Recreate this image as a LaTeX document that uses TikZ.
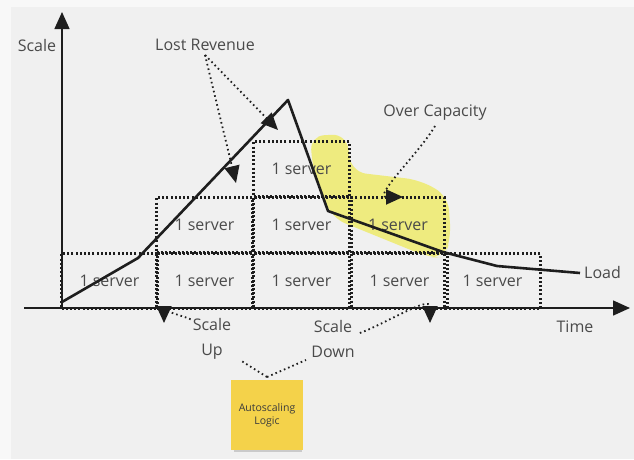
\documentclass[tikz,border=0pt]{standalone}
\usepackage{fontspec}
\setmainfont{Open Sans}
\usetikzlibrary{arrows.meta}
\definecolor{bgouter}{HTML}{F8F8F8}
\definecolor{bginner}{HTML}{F0F0F0}
\definecolor{ink}{HTML}{1E1E1E}
\definecolor{txt}{HTML}{4A4A4A}
\definecolor{hilite}{HTML}{EEEA50}
\definecolor{sticky}{HTML}{F4D24A}
\tikzset{
  slot/.style={draw=ink, line width=3pt, dash pattern=on 2pt off 2.2pt,
    minimum width=#1, minimum height=55pt, inner sep=0pt, anchor=north west,
    font=\fontsize{16}{18}\selectfont, text=txt},
  slot/.default=96pt,
  lbl/.style={font=\fontsize{16}{25}\selectfont, text=txt, inner sep=1pt, align=center},
  axis/.style={draw=ink, line width=1.5pt, -{Triangle[length=17pt,width=15pt]}},
  pointer/.style={draw=ink, line width=1.8pt, dash pattern=on 1.6pt off 3pt,
    -{Triangle[length=17pt,width=15pt]}},
  tie/.style={draw=ink, line width=1.8pt, dash pattern=on 1.6pt off 3pt},
  load/.style={draw=ink, line width=2.6pt, line join=round}
}
\begin{document}
\begin{tikzpicture}[x=1pt,y=-1pt]
  % backdrop
  \fill[bgouter] (0,0) rectangle (634,459);
  \fill[bginner] (11,7) rectangle (634,459);
  \useasboundingbox (0,0) rectangle (634,459);

  % over-capacity highlight
  \fill[hilite, opacity=0.7, rounded corners=14pt]
    (310,136) -- (346,134) -- (352,172) -- (420,180) -- (448,196)
    -- (451,238) -- (444,258) -- (428,257) -- (332,218) -- (313,170) -- cycle;

  % server slots
  \node[slot] (b1) at (60,252)  {1 server};
  \node[slot] (b2) at (155,252) {1 server};
  \node[slot] (b3) at (252,252) {1 server};
  \node[slot] (b4) at (350,252) {1 server};
  \node[slot] (b5) at (443,252) {1 server};
  \node[slot] (m1) at (155,196) {1 server};
  \node[slot] (m2) at (252,196) {1 server};
  \node[slot=93pt] (m3) at (350,196) {1 server};
  \node[slot] (t1) at (252,140) {1 server};

  % axes
  \coordinate (ytop) at (62,12);
  \coordinate (xstart) at (24,308);
  \coordinate (xend) at (630,308);
  \draw[axis] (62,305) -- (ytop);
  \draw[axis] (xstart) -- (xend);
  \node[lbl] (scaleaxis) at (37,45) {Scale};
  \node[lbl] (time) at (575,327) {Time};

  % load curve
  \coordinate (l0) at (62,302);
  \coordinate (l1) at (138,258);
  \coordinate (l2) at (288,100);
  \coordinate (l3) at (328,211);
  \coordinate (l4) at (443,252);
  \coordinate (l5) at (497,266);
  \coordinate (l6) at (580,273);
  \draw[load] (l0) -- (l1) -- (l2) -- (l3) -- (l4) -- (l5) -- (l6);
  \node[lbl, anchor=west] (loadlbl) at (583,272) {Load};

  % lost revenue pointers
  \node[lbl] (lost) at (205,45) {Lost Revenue};
  \coordinate (lr1) at (236,183);
  \coordinate (lr2) at (278,130);
  \draw[pointer] (lost.south) ++(0,3) -- (lr1);
  \draw[pointer] (lost.south) ++(0,3) -- (lr2);

  % over capacity pointer
  \node[lbl] (over) at (435,113) {Over Capacity};
  \coordinate (oc) at (403,197);
  \draw[pointer] (over.south) ++(0,4) to[out=240, in=180] (oc);

  % scale up / scale down
  \node[lbl] (up) at (212,339) {Scale\\Up};
  \node[lbl] (down) at (333,339) {Scale\\Down};
  \coordinate (upTip) at (164,323);
  \coordinate (downTip) at (430,323);
  \draw[pointer] (up.north west) ++(-1,2) to[out=155, in=90] (upTip);
  \draw[pointer] (down.east) ++(4,-6) to[out=20, in=90] (downTip);

  % autoscaling logic note
  \fill[black!35, opacity=0.5] (234,447) rectangle (302,452);
  \node[fill=sticky, minimum width=72pt, minimum height=70pt, inner sep=0pt,
        font=\fontsize{10.5}{13}\selectfont, text=txt!80!black, align=center]
        (logic) at (267,415) {Autoscaling\\Logic};
  \coordinate (join) at (267,377);
  \draw[tie] (join) -- (240,360);
  \draw[tie] (join) -- (306,360);
\end{tikzpicture}
\end{document}
